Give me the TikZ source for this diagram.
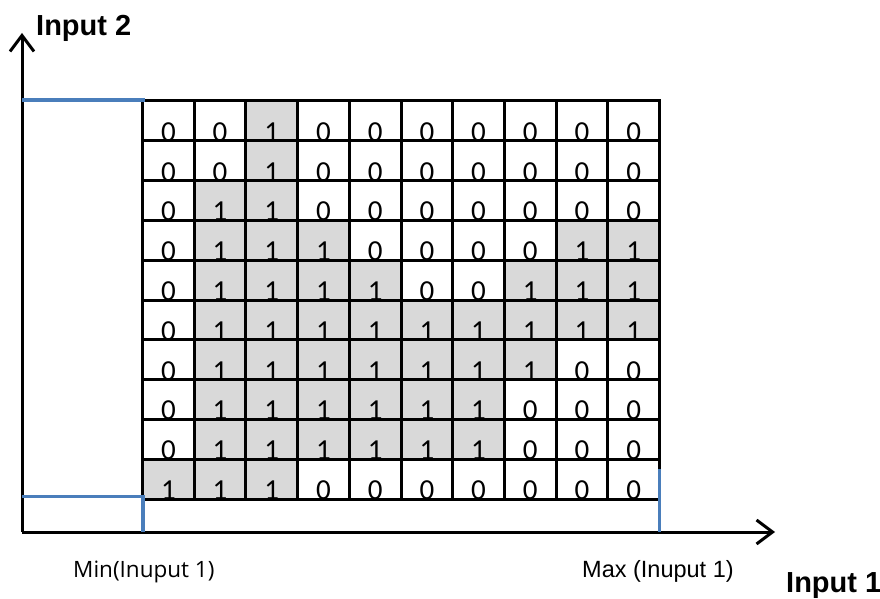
\documentclass[tikz,border=0pt]{standalone}
\usepackage{fontspec}
\setmainfont{Liberation Sans}
\newfontfamily\digitfont{Carlito}
\newfontfamily\minfont{Open Sans}
\usetikzlibrary{arrows.meta}
\definecolor{cellgray}{HTML}{D9D9D9}
\definecolor{axisblue}{HTML}{4A7EBB}
\begin{document}
\begin{tikzpicture}[x=1pt,y=-1pt,
  gridline/.style={line width=3pt,line cap=rect},
  axisline/.style={line width=3pt,-{Straight Barb[length=16pt,width=24pt,line width=3pt]}},
  bluemark/.style={line width=3.2pt,axisblue},
  digit/.style={inner sep=0pt,anchor=base,font=\digitfont\fontsize{29}{31}\selectfont},
  biglabel/.style={inner sep=0pt,anchor=base west,font=\bfseries\fontsize{29}{32}\selectfont},
  smalllabel/.style={inner sep=0pt,anchor=base west}]
\useasboundingbox (0,0) rectangle (880,599);
\def\gx{142.5}\def\gy{101}\def\cw{51.7}\def\ch{39.8}
% cells
\foreach \r/\vals in {1/{0,0,1,0,0,0,0,0,0,0},2/{0,0,1,0,0,0,0,0,0,0},3/{0,1,1,0,0,0,0,0,0,0},4/{0,1,1,1,0,0,0,0,1,1},5/{0,1,1,1,1,0,0,1,1,1},6/{0,1,1,1,1,1,1,1,1,1},7/{0,1,1,1,1,1,1,1,0,0},8/{0,1,1,1,1,1,1,0,0,0},9/{0,1,1,1,1,1,1,0,0,0},10/{1,1,1,0,0,0,0,0,0,0}}{
  \foreach \v [count=\c] in \vals {
    \pgfmathsetmacro\xl{\gx+(\c-1)*\cw}
    \pgfmathsetmacro\yt{\gy+(\r-1)*\ch}
    \ifnum\v=1
      \fill[cellgray] (\xl,\yt) rectangle ++(\cw,\ch);
    \fi
    \node[digit] (cell-\r-\c) at (\xl+0.5*\cw,\yt+\ch+0.5) {\v};
  }
}
% grid lines
\foreach \i in {0,...,10}{
  \draw[gridline] (\gx+\i*\cw,\gy) -- (\gx+\i*\cw,\gy+10*\ch);
  \draw[gridline] (\gx,\gy+\i*\ch) -- (\gx+10*\cw,\gy+\i*\ch);
}
% axes
\coordinate (origin) at (22,532);
\coordinate (xend) at (775,532);
\coordinate (yend) at (22,33);
\draw[axisline] (origin) -- (xend);
\draw[axisline] (origin) -- (yend);
% blue marks
\coordinate (b1) at (22,100);
\coordinate (b2) at (145,100);
\coordinate (b3) at (22,496.5);
\coordinate (b4) at (143,496.5);
\coordinate (b5) at (143,532);
\coordinate (b6) at (659.5,469);
\coordinate (b7) at (659.5,532);
\draw[bluemark] (b1) -- (b2);
\draw[bluemark] (b3) -- (b4) -- (b5);
\draw[bluemark] (b6) -- (b7);
% labels
\node[biglabel] (in2) at (36,36) {Input 2};
\node[biglabel] (in1) at (786,592.5) {Input 1};
\node[smalllabel,font=\minfont\fontsize{22.5}{26}\selectfont] (minl) at (73,577) {Min(Inuput 1)};
\node[smalllabel,font=\fontsize{23.5}{26}\selectfont] (maxl) at (582,577) {Max (Inuput 1)};
\end{tikzpicture}
\end{document}
